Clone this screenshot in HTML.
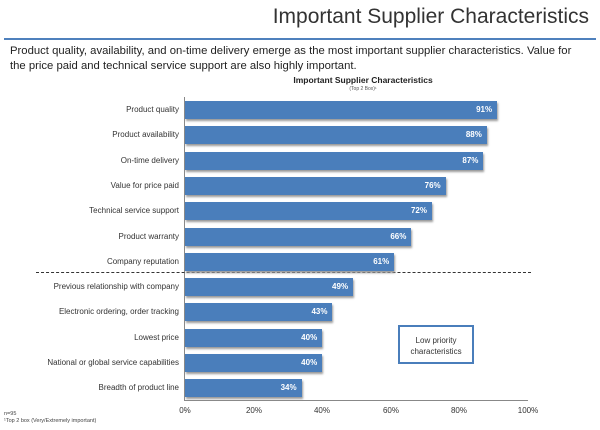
<!DOCTYPE html><html><head><style>
body{margin:0;width:600px;height:430px;background:#fff;font-family:"Liberation Sans",sans-serif;position:relative;overflow:hidden}
.a{position:absolute;white-space:nowrap}
.lbl{position:absolute;right:421px;font-size:8px;color:#333;text-align:right;white-space:nowrap}
.bar{position:absolute;left:185px;height:18px;background:#4a7ebb;box-shadow:1px 2px 2px #999}
.v{position:absolute;right:5px;top:4px;font-size:8px;color:#fff;font-weight:bold}
.tk{position:absolute;top:406px;font-size:8px;color:#333;width:40px;text-align:center}
</style></head><body>
<div class="a" style="right:11px;top:5px;font-size:21px;color:#333">Important Supplier Characteristics</div>
<div class="a" style="left:4px;top:38px;width:592px;height:2px;background:#4f81bd"></div>
<div class="a" style="left:10px;top:44px;font-size:11.3px;color:#222;line-height:15px">Product quality, availability, and on-time delivery emerge as the most important supplier characteristics. Value for<br>the price paid and technical service support are also highly important.</div>
<div class="a" style="left:0;width:726px;text-align:center;top:75px;font-size:8.5px;font-weight:bold;color:#222">Important Supplier Characteristics</div>
<div class="a" style="left:0;width:726px;text-align:center;top:86px;font-size:5px;color:#555">(Top 2 Box)¹</div>
<div class="a" style="left:184px;top:97px;width:1px;height:304px;background:#888"></div>
<div class="a" style="left:184px;top:400px;width:344px;height:1px;background:#888"></div>
<div class="a" style="left:36px;top:272px;width:495px;border-top:1px dashed #333"></div>
<div class="a" style="left:398px;top:325px;width:76px;height:39px;border:2px solid #4a7ebb;box-sizing:border-box;font-size:8px;color:#333;text-align:center;padding-top:8px;line-height:11px">Low priority<br>characteristics</div>
<div id="c"></div>
<div class="tk" style="left:165px">0%</div><div class="tk" style="left:234px">20%</div><div class="tk" style="left:302px">40%</div><div class="tk" style="left:371px">60%</div><div class="tk" style="left:439px">80%</div><div class="tk" style="left:508px">100%</div>
<div class="a" style="left:4px;top:411px;font-size:5.5px;color:#444;line-height:7px">n=95<br>¹Top 2 box (Very/Extremely important)</div>
<script>
var d=[["Product quality",91],["Product availability",88],["On-time delivery",87],["Value for price paid",76],["Technical service support",72],["Product warranty",66],["Company reputation",61],["Previous relationship with company",49],["Electronic ordering, order tracking",43],["Lowest price",40],["National or global service capabilities",40],["Breadth of product line",34]];
var h="";d.forEach(function(r,i){var y=101+i*25.3;h+='<div class="lbl" style="top:'+(y+4)+'px">'+r[0]+'</div><div class="bar" style="top:'+y+'px;width:'+(r[1]*3.43)+'px"><span class="v">'+r[1]+'%</span></div>';});
document.getElementById("c").innerHTML=h;
</script>
</body></html>
